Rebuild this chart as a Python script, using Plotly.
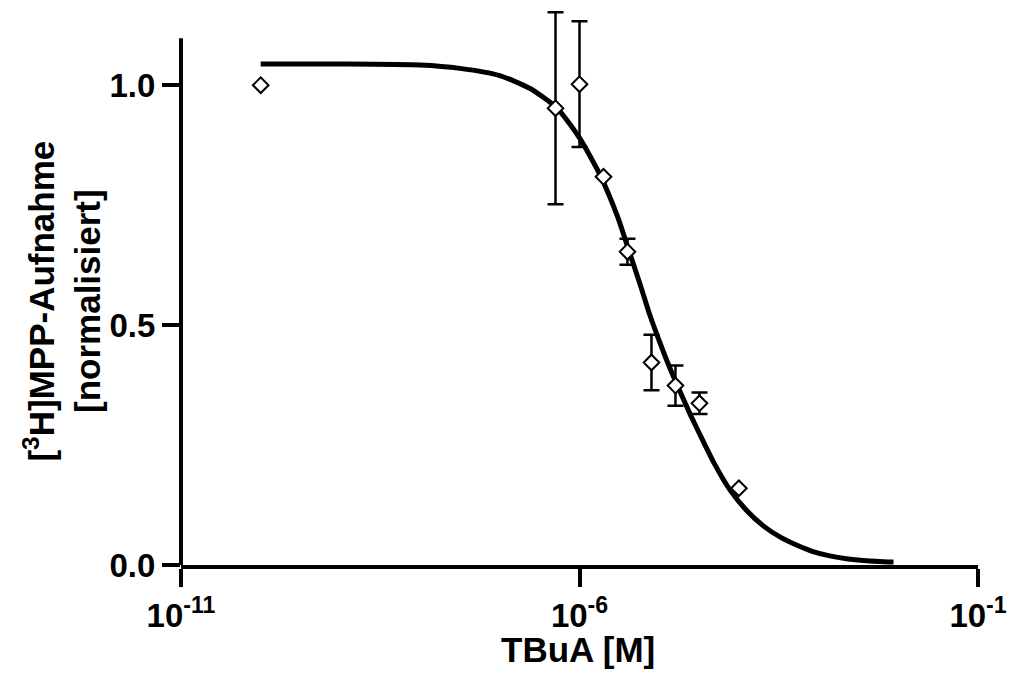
import plotly.graph_objects as go

# Measured uptake (normalised) versus TBuA concentration
conc_M = [1e-10, 5e-7, 1e-6, 2e-6, 4e-6, 8e-6, 1.6e-5, 3.2e-5, 1e-4]
uptake = [1.000, 0.952, 1.002, 0.809, 0.653, 0.422, 0.374, 0.337, 0.160]
uptake_err = [None, 0.200, 0.131, None, 0.027, 0.058, 0.042, 0.0225, None]

# Fitted dose-response curve, sampled as (log10 concentration, uptake)
fit_log_conc = [-10.0, -9.0, -8.0, -7.5, -7.0, -6.62, -6.28, -6.0, -5.74, -5.52,
                -5.39, -5.24, -5.115, -4.99, -4.865, -4.74, -4.614, -4.49, -4.32,
                -4.11, -3.90, -3.69, -3.48, -3.27, -3.07, -2.86, -2.65, -2.40, -2.06]
fit_uptake = [1.044, 1.044, 1.042, 1.035, 1.020, 0.993, 0.952, 0.890, 0.812, 0.725,
              0.660, 0.585, 0.520, 0.463, 0.410, 0.362, 0.315, 0.272, 0.215,
              0.156, 0.113, 0.081, 0.058, 0.041, 0.028, 0.019, 0.013, 0.009, 0.006]

x_tick_vals = [1e-11, 1e-6, 1e-1]
x_tick_text = ["10<sup>-11</sup>", "10<sup>-6</sup>", "10<sup>-1</sup>"]
y_tick_vals = [0.0, 0.5, 1.0]
y_tick_text = ["0.0", "0.5", "1.0"]

# The drawn y axis stops at Y_AXIS_TOP; the plotting range reaches a bit higher
# so the tallest error bars are not cut off.
Y_AXIS_TOP = 1.098
Y_RANGE_TOP = 1.165

FONT = "Liberation Sans, Arial, sans-serif"

fig = go.Figure()

fig.add_trace(go.Scatter(
    x=[10 ** v for v in fit_log_conc],
    y=fit_uptake,
    mode="lines",
    line=dict(color="black", width=5, shape="spline", smoothing=0.6),
    hoverinfo="skip",
    showlegend=False,
))

fig.add_trace(go.Scatter(
    x=conc_M,
    y=uptake,
    mode="markers",
    marker=dict(symbol="diamond", size=12, color="white",
                line=dict(color="black", width=2)),
    error_y=dict(type="data", array=uptake_err, visible=True,
                 color="black", thickness=2.5, width=8),
    cliponaxis=False,
    showlegend=False,
))

tick_common = dict(
    ticks="outside", ticklen=18, tickwidth=4, tickcolor="black",
    showgrid=False, zeroline=False, automargin=False,
    tickfont=dict(family=FONT, size=33, color="black", weight="bold"),
)

fig.update_xaxes(
    type="log", range=[-11, -1],
    tickmode="array", tickvals=x_tick_vals, ticktext=x_tick_text,
    showline=True, linecolor="black", linewidth=4,
    **tick_common,
)
fig.update_yaxes(
    range=[0, Y_RANGE_TOP],
    tickmode="array", tickvals=y_tick_vals, ticktext=y_tick_text,
    showline=False,
    **tick_common,
)

# Left axis line, from 0 up to the axis top
fig.add_shape(
    type="line", xref="paper", yref="y",
    x0=0, x1=0, y0=0, y1=Y_AXIS_TOP,
    line=dict(color="black", width=4),
    layer="above",
)

fig.add_annotation(
    text="[<sup>3</sup>H]MPP-Aufnahme<br>[normalisiert]",
    textangle=-90, xref="paper", yref="y",
    x=-0.1493, y=Y_AXIS_TOP / 2, xanchor="center", yanchor="middle",
    showarrow=False,
    font=dict(family=FONT, size=35, color="black", weight="bold"),
)
fig.add_annotation(
    text="TBuA [M]",
    xref="paper", yref="paper",
    x=0.498, y=-0.152, xanchor="center", yanchor="middle",
    showarrow=False,
    font=dict(family=FONT, size=35, color="black", weight="bold"),
)

fig.update_layout(
    width=1010, height=682,
    margin=dict(l=181, r=32, t=6, b=117),
    paper_bgcolor="white", plot_bgcolor="white",
    font=dict(family=FONT, color="black"),
)

fig.write_html("out.html")
